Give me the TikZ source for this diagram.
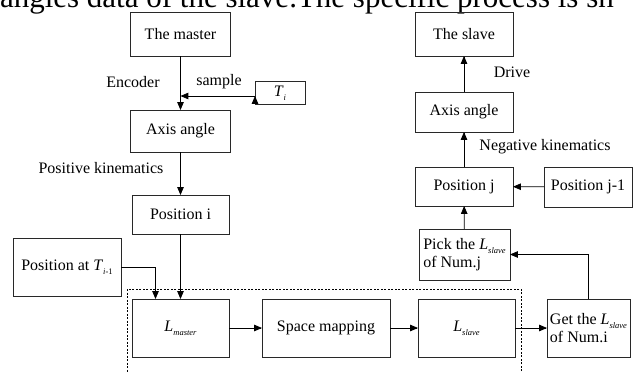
\documentclass[tikz,border=0pt]{standalone}
\usepackage{fontspec}
\setmainfont{Liberation Serif}
\usepackage{tikz}
\usetikzlibrary{shapes,arrows}
\definecolor{boxGray}{RGB}{40,40,40}
\newcommand{\subvar}[2]{\textit{#1}\raisebox{-0.55ex}{\fontsize{8.5}{8.5}\selectfont\textit{#2}}}

\begin{document}
\begin{tikzpicture}[x=1pt, y=-1pt]%
  \tikzset{normal arrow/.style={draw,-triangle 45,line width=0.8pt,black}}
  \tikzstyle{every node}=[draw=boxGray, line width=0.8pt, text=black, outer sep=0pt, inner sep=1pt, font=\fontsize{16}{18}\selectfont]
  \tikzstyle{plain text}=[draw=none]
  \useasboundingbox (0,0) rectangle (633,372);% keep the page at the reference size

  % text of the page above the figure, cut by the page edge
  \node[plain text, anchor=base west, font=\fontsize{31}{31}\selectfont] (caption) at (-1,7) {angles data of the slave.The specific process is sh};

  % left column: the master
  \node[minimum width=100pt, minimum height=44pt] at (180.5,34) (master) {The master};
  \node[minimum width=50pt, minimum height=23pt] at (280,93) (Ti) {\subvar{T}{i}};
  \node[minimum width=100pt, minimum height=42pt] at (180.5,131) (axisM) {Axis angle};
  \node[minimum width=97pt, minimum height=39pt] at (180.5,214.5) (posI) {Position i};
  \node[minimum width=108pt, minimum height=58pt] at (67,267) (posTprev) {Position at \subvar{T}{i\textup{-1}}};

  % bottom row
  \node[minimum width=97pt, minimum height=58pt] at (180.5,328) (Lmaster) {\subvar{L}{master}};
  \node[minimum width=128pt, minimum height=58pt] at (326,328) (space) {Space mapping};
  \node[minimum width=97pt, minimum height=58pt] at (466.5,328) (Lslave) {\subvar{L}{slave}};
  \node[minimum width=83pt, minimum height=58pt, align=left] at (588.5,328) (getL) {Get the \subvar{L}{slave}\\ of Num.i};

  % right column: the slave
  \node[minimum width=91pt, minimum height=51pt, align=left] at (464.5,254.5) (pick) {Pick the \subvar{L}{slave}\\of Num.j};
  \node[minimum width=98pt, minimum height=39pt] at (464,186.5) (posJ) {Position j};
  \node[minimum width=88pt, minimum height=40pt] at (588,187) (posJprev) {Position j-1};
  \node[minimum width=98pt, minimum height=40pt] at (464,112) (axisS) {Axis angle};
  \node[minimum width=98pt, minimum height=44pt] at (464,34) (slave) {The slave};

  \node[plain text] at (133,82) (encoder) {Encoder};
  \node[plain text] at (219,82) (sample) {sample};
  \node[plain text] at (101,168) (poskin) {Positive kinematics};
  \node[plain text] at (512,72) (drive) {Drive};
  \node[plain text] at (545,147) (negkin) {Negative kinematics};

  \coordinate (tap) at (180.5,96);
  \draw[dashed, dash pattern=on 2pt off 1.5pt, line width=0.8pt] (127,289) rectangle (521,385);

  \path[normal arrow] (master) edge (axisM);
  \path[normal arrow] (Ti.west |- tap) edge (tap);
  \path[normal arrow] (axisM) edge (posI);
  \path[normal arrow] (posI) edge (Lmaster);
  \draw[normal arrow] (posTprev.east) -| ([xshift=-25pt]Lmaster.north);
  \path[normal arrow] (Lmaster) edge (space);
  \path[normal arrow] (space) edge (Lslave);
  \path[normal arrow] (Lslave) edge (getL);
  \draw[normal arrow] (getL.north) |- (pick.east);
  \path[normal arrow] (pick) edge (posJ);
  \path[normal arrow] (posJprev) edge (posJ);
  \path[normal arrow] (posJ) edge (axisS);
  \path[normal arrow] (axisS) edge (slave);
\end{tikzpicture}
\end{document}
